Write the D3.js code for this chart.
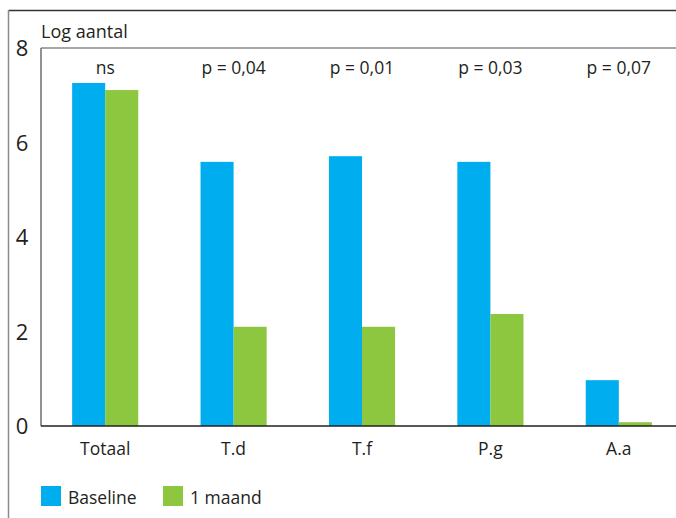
<!DOCTYPE html><html><head><meta charset="UTF-8"><script src="https://d3js.org/d3.v7.min.js"></script><style>
  body { margin: 0; background: #fff; }
  svg { display: block; }
  text { font-family: "Open Sans", "Noto Sans", sans-serif; fill: #231f20; }
</style></head><body><svg id="chart"></svg><script>
  const categories = ["Totaal", "T.d", "T.f", "P.g", "A.a"];
  const baseline = [7.26, 5.59, 5.71, 5.59, 0.97];
  const maand = [7.11, 2.10, 2.10, 2.37, 0.08];
  const pLabels = ["ns", "p = 0,04", "p = 0,01", "p = 0,03", "p = 0,07"];
  const yTicks = [0, 2, 4, 6, 8];
  const seriesNames = ["Baseline", "1 maand"];
  const colors = ["#00adee", "#8dc63f"];

  const width = 676, height = 518;
  const margin = { top: 48, left: 41, bottom: 92 };
  const plotRight = 683;
  const svg = d3.select("#chart").attr("width", width).attr("height", height);

  // outer frame
  svg.append("line").attr("x1", 8.5).attr("x2", width).attr("y1", 10.5).attr("y2", 10.5)
    .attr("stroke", "#333").attr("stroke-width", 1.5);
  svg.append("line").attr("x1", 8.5).attr("x2", 8.5).attr("y1", 10).attr("y2", height)
    .attr("stroke", "#8a8a8a").attr("stroke-width", 1.5);

  const x = d3.scaleBand().domain(categories).range([margin.left, plotRight])
    .paddingInner(0.485).paddingOuter(0.2425);
  const x1 = d3.scaleBand().domain([0, 1]).range([0, x.bandwidth()]);
  const y = d3.scaleLinear().domain([0, 8]).range([height - margin.bottom, margin.top]);

  // plot frame
  svg.append("line").attr("x1", margin.left).attr("x2", width).attr("y1", y(8)).attr("y2", y(8))
    .attr("stroke", "#8a8a8a").attr("stroke-width", 1.5);
  svg.append("line").attr("x1", margin.left).attr("x2", margin.left).attr("y1", y(8)).attr("y2", y(0))
    .attr("stroke", "#6d6d6d").attr("stroke-width", 1.5);

  const groups = svg.selectAll(".grp").data(categories).enter().append("g")
    .attr("transform", d => `translate(${x(d)},0)`);

  groups.selectAll("rect").data((d, i) => [baseline[i], maand[i]]).enter().append("rect")
    .attr("x", (d, j) => x1(j))
    .attr("width", x1.bandwidth())
    .attr("y", d => y(d))
    .attr("height", d => y(0) - y(d))
    .attr("fill", (d, j) => colors[j]);

  // baseline axis line
  svg.append("line").attr("x1", margin.left).attr("x2", width).attr("y1", y(0)).attr("y2", y(0))
    .attr("stroke", "#231f20").attr("stroke-width", 1.5);

  // y tick labels
  svg.selectAll(".ytick").data(yTicks).enter().append("text")
    .attr("x", 22).attr("y", d => y(d) + 8)
    .attr("text-anchor", "middle").style("font-size", "22px")
    .text(d => d);

  svg.append("text").attr("x", 41).attr("y", 38).style("font-size", "18px").text("Log aantal");

  // p-values
  svg.selectAll(".plab").data(categories).enter().append("text")
    .attr("x", d => x(d) + x.bandwidth() / 2).attr("y", 74)
    .attr("text-anchor", "middle").style("font-size", "17.5px")
    .text((d, i) => pLabels[i]);

  // category labels
  svg.selectAll(".clab").data(categories).enter().append("text")
    .attr("x", d => x(d) + x.bandwidth() / 2).attr("y", 455)
    .attr("text-anchor", "middle").style("font-size", "17.5px")
    .text(d => d);

  // legend
  const legX = [41, 163];
  const leg = svg.selectAll(".leg").data(seriesNames).enter().append("g")
    .attr("transform", (d, i) => `translate(${legX[i]},486)`);
  leg.append("rect").attr("width", 20).attr("height", 20).attr("fill", (d, i) => colors[i]);
  leg.append("text").attr("x", 27).attr("y", 18).style("font-size", "17.5px").text(d => d);
</script></body></html>
